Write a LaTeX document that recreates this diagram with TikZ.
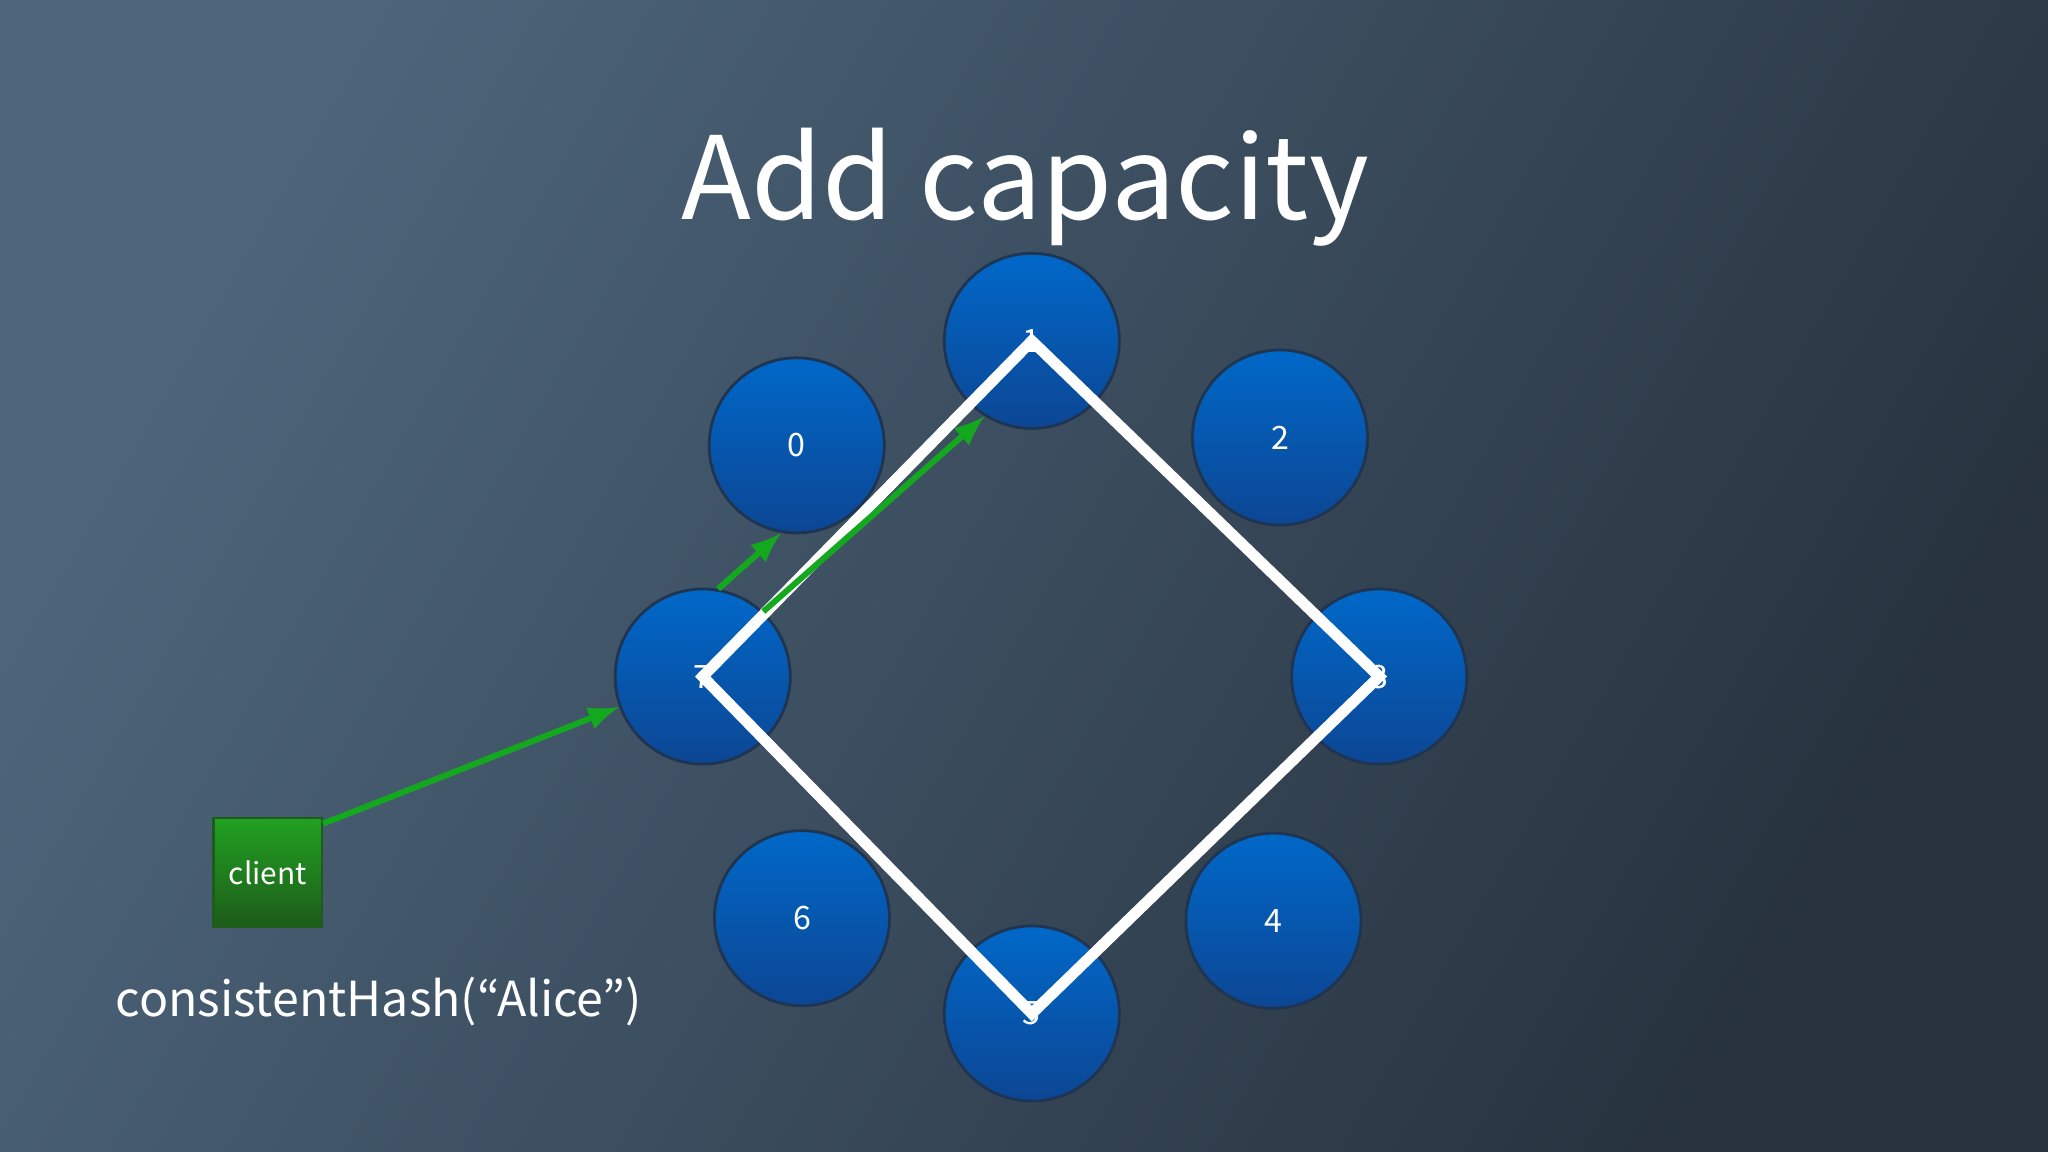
\documentclass[tikz,border=0pt]{standalone}
\usepackage{fontspec}
\newfontfamily\jp{Noto Sans CJK JP}
\definecolor{bgA}{HTML}{4D657B}
\definecolor{bgB}{HTML}{27323E}
\definecolor{cTop}{HTML}{0068C8}
\definecolor{cBot}{HTML}{0C4694}
\definecolor{cEdge}{HTML}{1E3450}
\definecolor{gTop}{HTML}{22A022}
\definecolor{gBot}{HTML}{1D5C1A}
\definecolor{arr}{HTML}{14A81E}
\begin{document}
\begin{tikzpicture}[x=0.01cm,y=-0.01cm,
  ring/.style={circle,minimum size=1.34cm,inner sep=0pt,draw=cEdge,line width=0.6pt,top color=cTop,bottom color=cBot,text=white,font=\jp\fontsize{7}{8}\selectfont},
  hop/.style={-latex,draw=arr,line width=1.3pt},
  edge/.style={draw=white,line width=2.4pt}]
\useasboundingbox (0,0) rectangle (1568,882);
\shade[shading=axis,top color=bgA,bottom color=bgB,shading angle=60] (0,0) rectangle (1568,882);
\node[font=\jp\fontsize{25}{28}\selectfont,text=white] (title) at (785,143) {Add capacity};
\node[ring] (n0) at (610,341) {0};
\node[ring] (n1) at (790,261) {1};
\node[ring] (n2) at (980,335) {2};
\node[ring] (n3) at (1056,518) {3};
\node[ring] (n4) at (975,705) {4};
\node[ring] (n5) at (790,776) {5};
\node[ring] (n6) at (614,703) {6};
\node[ring] (n7) at (538,518) {7};
\draw[edge,line join=miter] (n1.center) -- (n3.center) -- (n5.center) -- (n7.center) -- cycle;
\node[draw=gBot,line width=0.5pt,top color=gTop,bottom color=gBot,minimum size=0.83cm,inner sep=0pt,text=white,font=\jp\fontsize{6.5}{8}\selectfont] (client) at (205,668) {client};
\node[text=white,font=\jp\fontsize{10.5}{13}\selectfont] (hash) at (290,767) {consistentHash(“Alice”)};
\draw[hop] ([yshift=-0.05cm]client.north east) -- (n7.200);
\draw[hop] (n7.80) -- (n0.260);
\draw[hop] (n7.47) -- (n1.238);
\end{tikzpicture}
\end{document}
